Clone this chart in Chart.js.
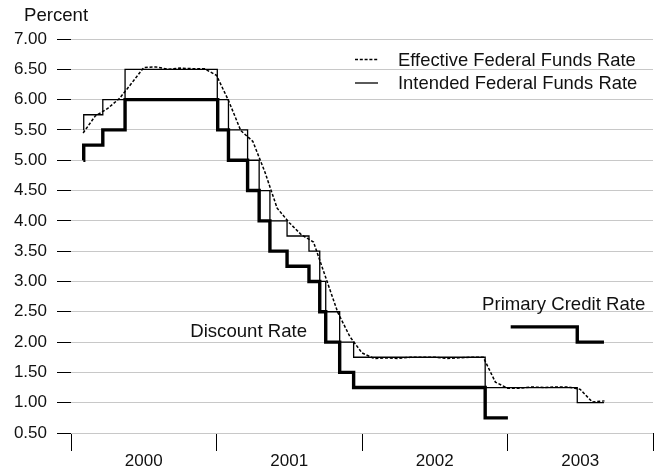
<!DOCTYPE html>
<html><head><meta charset="utf-8">
<script src="https://cdn.jsdelivr.net/npm/chart.js@4/dist/chart.umd.min.js"></script>
<style>html,body{margin:0;padding:0;background:#fff}#wrap{width:660px;height:473px;position:relative}</style>
</head><body><div id="wrap"><canvas id="c"></canvas></div>
<script>
// ---- data ----
const yearLabels = ['2000', '2001', '2002', '2003'];
const yMin = 0.5, yMax = 7.0, yStep = 0.5;

const effectiveMonths = [
  '2000-01','2000-02','2000-03','2000-04','2000-05','2000-06','2000-07','2000-08','2000-09','2000-10','2000-11','2000-12',
  '2001-01','2001-02','2001-03','2001-04','2001-05','2001-06','2001-07','2001-08','2001-09','2001-10','2001-11','2001-12',
  '2002-01','2002-02','2002-03','2002-04','2002-05','2002-06','2002-07','2002-08','2002-09','2002-10','2002-11','2002-12',
  '2003-01','2003-02','2003-03','2003-04','2003-05','2003-06','2003-07','2003-08'];
const effectiveRates = [
  5.45,5.73,5.85,6.02,6.27,6.53,6.54,6.50,6.52,6.51,6.51,6.40,
  5.98,5.49,5.31,4.80,4.21,3.97,3.77,3.65,3.07,2.49,2.09,1.82,
  1.73,1.74,1.73,1.75,1.75,1.75,1.73,1.74,1.75,1.75,1.34,1.24,
  1.24,1.26,1.25,1.26,1.26,1.22,1.01,1.03];

const intendedDates = ['2000-02-01','2000-02-02','2000-03-21','2000-05-16','2001-01-03','2001-01-31','2001-03-20','2001-04-18',
  '2001-05-15','2001-06-27','2001-08-21','2001-09-17','2001-10-02','2001-11-06','2001-12-11','2002-11-06','2003-06-25','2003-08-31'];
const intendedRates = [5.50,5.75,6.00,6.50,6.00,5.50,5.00,4.50,4.00,3.75,3.50,3.00,2.50,2.00,1.75,1.25,1.00,1.00];

const discountDates = ['2000-02-01','2000-02-02','2000-03-21','2000-05-16','2001-01-04','2001-01-31','2001-03-20','2001-04-18',
  '2001-05-15','2001-06-27','2001-08-21','2001-09-17','2001-10-02','2001-11-06','2001-12-11','2002-11-06','2003-01-02'];
const discountRates = [5.00,5.25,5.50,6.00,5.50,5.00,4.50,4.00,3.50,3.25,3.00,2.50,2.00,1.50,1.25,0.75,0.75];

const primaryDates = ['2003-01-09','2003-06-25','2003-08-31'];
const primaryRates = [2.25,2.00,2.00];

// ---- helpers ----
function yearFrac(s) {
  const [y, m, d] = s.split('-').map(Number);
  const t0 = Date.UTC(y, 0, 1), t1 = Date.UTC(y + 1, 0, 1);
  return y + (Date.UTC(y, m - 1, d || 1) - t0) / (t1 - t0);
}
function monthEnd(s) {
  const [y, m] = s.split('-').map(Number);
  return y + m / 12;
}
const pts = (xs, ys, f) => xs.map((s, i) => ({ x: f(s), y: ys[i] }));

const FONT = '"Liberation Sans", Arial, Helvetica, sans-serif';
const firstYear = Number(yearLabels[0]);
const lastYear = Number(yearLabels[yearLabels.length - 1]) + 1;

const textPlugin = {
  id: 'texts',
  afterDraw(chart) {
    const { ctx, chartArea: a, scales: { x, y } } = chart;
    ctx.save();
    ctx.fillStyle = '#111';
    ctx.textBaseline = 'middle';
    ctx.font = '18.6px ' + FONT;
    ctx.textAlign = 'left';
    ctx.fillText('Percent', a.left - 47, a.top - 23);
    ctx.textAlign = 'center';
    ctx.fillText('Discount Rate', x.getPixelForValue(2001.221), y.getPixelForValue(2.175));
    ctx.fillText('Primary Credit Rate', x.getPixelForValue(2003.386), y.getPixelForValue(2.612));
    // legend
    const lx0 = a.right - 298, lx1 = a.right - 275, tx = a.right - 255;
    const r1 = a.top + 20.5, r2 = a.top + 44;
    ctx.textAlign = 'left';
    ctx.font = '18.4px ' + FONT;
    ctx.fillText('Effective Federal Funds Rate', tx, r1 + 1);
    ctx.fillText('Intended Federal Funds Rate', tx, r2 + 1);
    ctx.strokeStyle = '#000';
    ctx.lineWidth = 1.5;
    ctx.setLineDash([3, 1.8]);
    ctx.beginPath(); ctx.moveTo(lx0, r1); ctx.lineTo(lx1, r1); ctx.stroke();
    ctx.setLineDash([]);
    ctx.lineWidth = 1.3;
    ctx.beginPath(); ctx.moveTo(lx0, r2); ctx.lineTo(lx1, r2); ctx.stroke();
    ctx.restore();
  }
};

new Chart(document.getElementById('c'), {
  type: 'line',
  data: {
    datasets: [
      { label: 'Discount Rate', data: pts(discountDates, discountRates, yearFrac), stepped: true,
        borderColor: '#000', borderWidth: 3.4, pointRadius: 0, fill: false },
      { label: 'Primary Credit Rate', data: pts(primaryDates, primaryRates, yearFrac), stepped: true,
        borderColor: '#000', borderWidth: 3.4, pointRadius: 0, fill: false },
      { label: 'Intended Federal Funds Rate', data: pts(intendedDates, intendedRates, yearFrac), stepped: true,
        borderColor: '#000', borderWidth: 1.3, pointRadius: 0, fill: false },
      { label: 'Effective Federal Funds Rate', data: pts(effectiveMonths, effectiveRates, monthEnd),
        borderColor: '#000', borderWidth: 1.5, borderDash: [3, 1.8], pointRadius: 0, tension: 0, fill: false }
    ]
  },
  options: {
    responsive: true, maintainAspectRatio: false, animation: false,
    layout: { padding: { left: 0, right: 7, top: 39, bottom: 0 } },
    plugins: { legend: { display: false }, tooltip: { enabled: false } },
    scales: {
      x: {
        type: 'linear', min: firstYear, max: lastYear,
        afterBuildTicks(scale) {
          const t = [];
          for (let v = firstYear; v <= lastYear; v += 0.5) t.push({ value: v });
          scale.ticks = t;
        },
        afterFit(scale) { scale.height = 40; },
        border: { display: false },
        grid: { drawOnChartArea: false, drawTicks: true, tickLength: 18, lineWidth: 1,
          tickColor: (c) => Number.isInteger(c.tick && c.tick.value) ? '#000' : 'rgba(0,0,0,0)' },
        ticks: { autoSkip: false, maxRotation: 0, padding: 0, color: '#111', font: { family: FONT, size: 17 },
          callback: (v) => Number.isInteger(v) ? '' : yearLabels[Math.floor(v) - firstYear] }
      },
      y: {
        min: yMin, max: yMax,
        afterBuildTicks(scale) {
          const t = [];
          for (let v = yMin; v <= yMax + 1e-9; v += yStep) t.push({ value: Math.round(v * 100) / 100 });
          scale.ticks = t;
        },
        afterFit(scale) { scale.width = 71; },
        border: { display: false },
        grid: { color: '#c8c8c8', lineWidth: 1, tickColor: '#000', tickLength: 14, drawTicks: true },
        ticks: { padding: 10, color: '#111', font: { family: FONT, size: 17 }, callback: (v) => v.toFixed(2) }
      }
    }
  },
  plugins: [textPlugin]
});
</script></body></html>
